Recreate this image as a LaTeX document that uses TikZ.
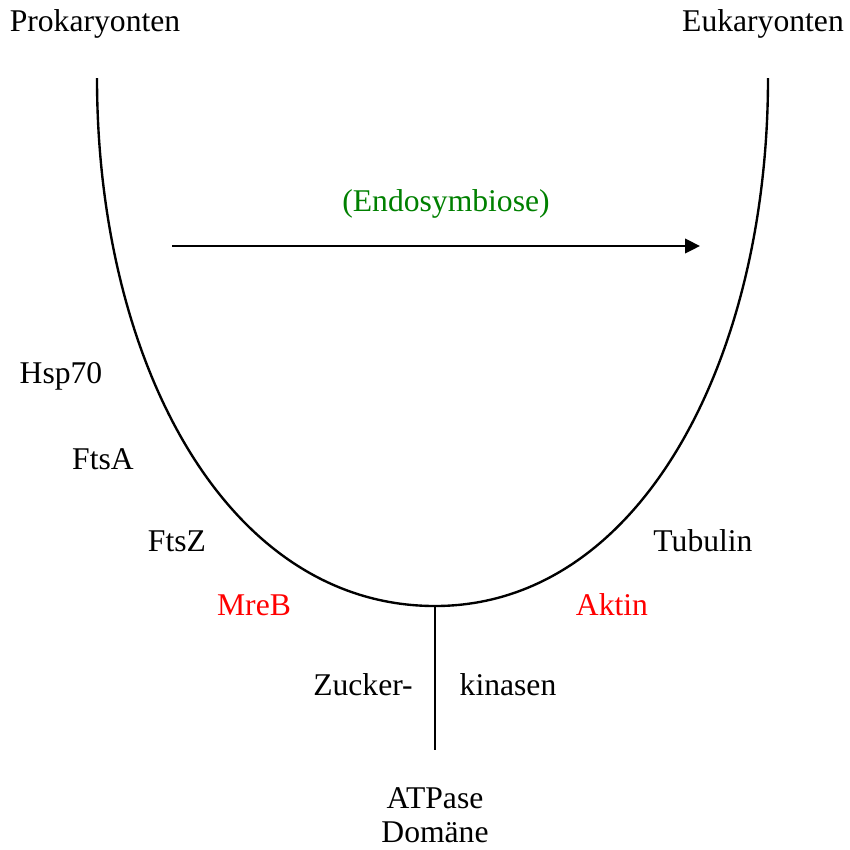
\documentclass[tikz,border=0pt]{standalone}
\usepackage{fontspec}
\setmainfont{Liberation Serif}
\usepackage{tikz}
\usetikzlibrary{arrows.meta,positioning}
\definecolor{clSymb}{HTML}{008000}
\definecolor{clActin}{HTML}{FF0000}
\tikzset{
  term/.style={anchor=base, inner sep=0pt, font=\fontsize{18}{21}\selectfont, text=black},
  actin/.style={term, text=clActin},
  symb/.style={term, text=clSymb},
  branch/.style={line width=1.35pt, draw=black},
  flow/.style={-{Triangle[length=3mm, width=2.9mm]}, line width=1.35pt, draw=black},
}

\begin{document}
\begin{tikzpicture}[x=0.2mm, y=-0.2mm]
  \useasboundingbox (0,0) rectangle (850,849);
  % ends of the tree
  \node[term] (prok) at (95,31) {Prokaryonten};
  \node[term] (euk) at (763,31) {Eukaryonten};
  \coordinate (prokTop) at (97,78);
  \coordinate (eukTop) at (768,78);
  \coordinate (root) at (435,606);
  \coordinate (stemEnd) at (435,750);
  % U-shaped branch and the common stem
  \draw[branch] (prokTop) .. controls (97,360) and (225,606) .. (root)
                          .. controls (640,606) and (768,360) .. (eukTop);
  \draw[branch] (root) -- (stemEnd);
  % transfer arrow
  \coordinate (flowStart) at (172,246);
  \coordinate (flowEnd) at (700,246);
  \draw[flow] (flowStart) -- (flowEnd);
  \node[symb] (endo) at (446,211) {(Endosymbiose)};
  % protein families
  \node[term] (hsp) at (61,383) {Hsp70};
  \node[term] (ftsa) at (103,469) {FtsA};
  \node[term] (ftsz) at (177,551) {FtsZ};
  \node[actin] (mreb) at (254,615) {MreB};
  \node[term] (tub) at (703,551) {Tubulin};
  \node[actin] (aktin) at (612,615) {Aktin};
  \node[term] (zucker) at (363,695) {Zucker-};
  \node[term] (kinasen) at (508,695) {kinasen};
  \node[term] (atpase) at (435,808) {ATPase};
  \node[term] (domaene) at (435,842) {Domäne};
\end{tikzpicture}
\end{document}
